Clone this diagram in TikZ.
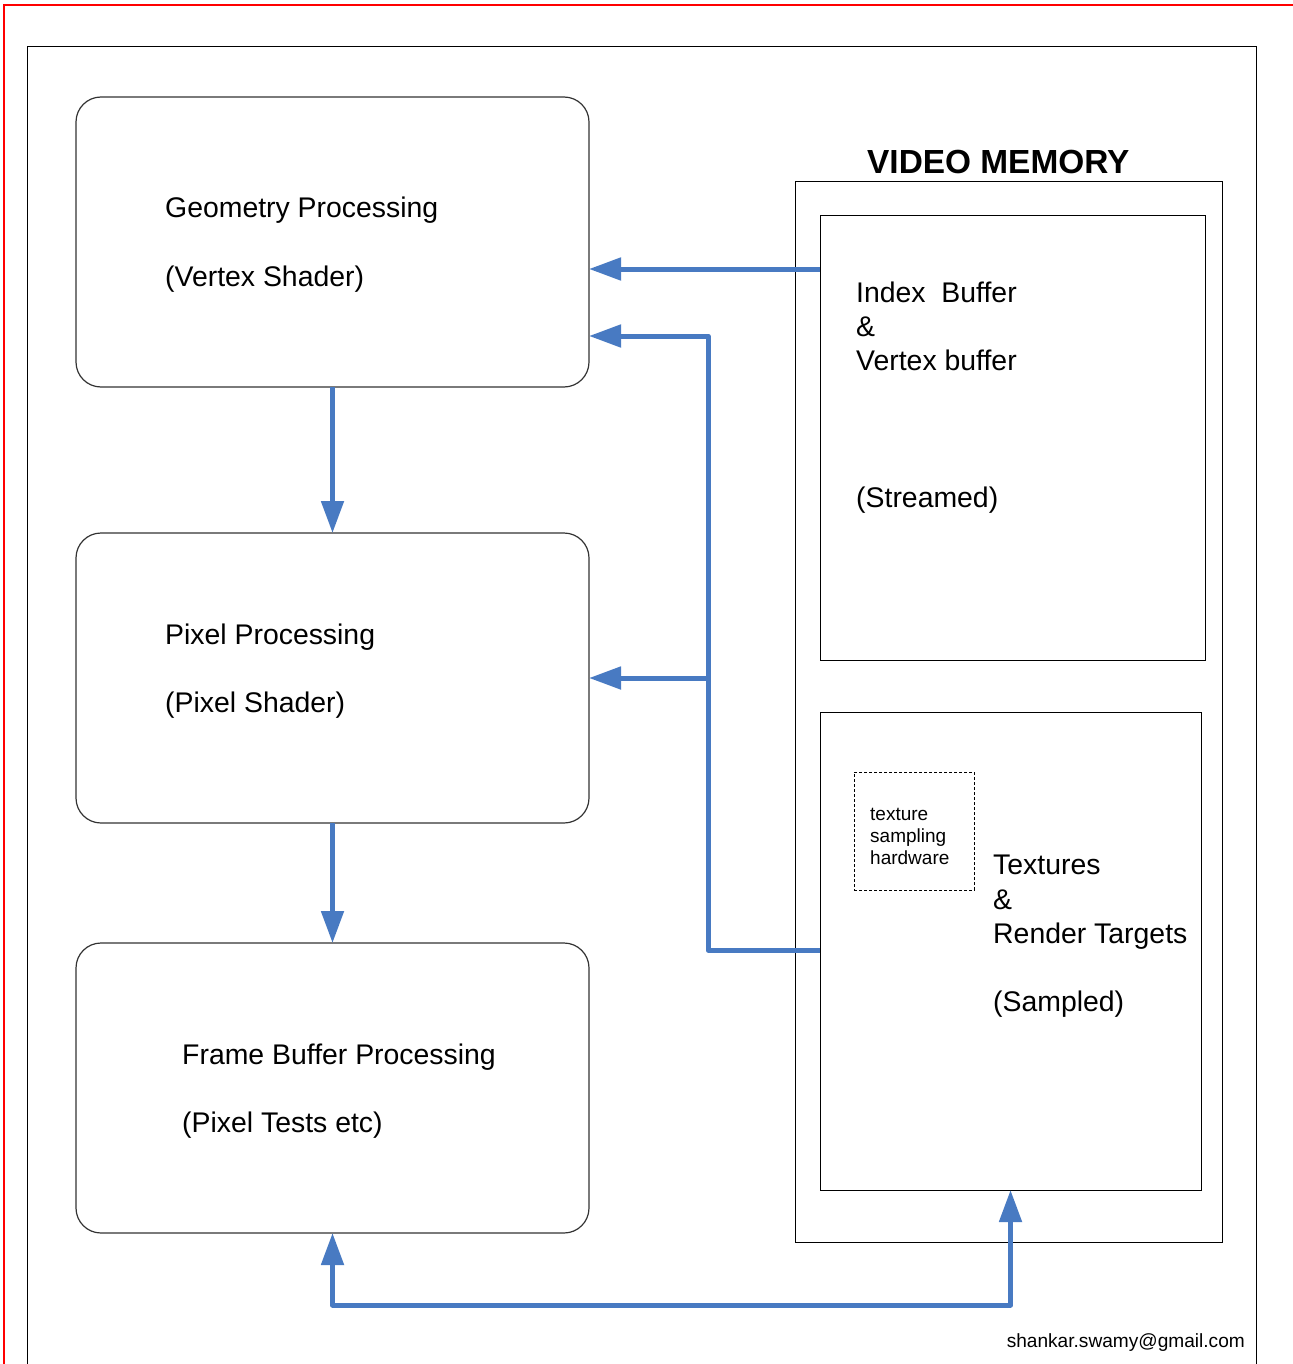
\documentclass[tikz,border=0pt]{standalone}
\usepackage{fontspec}
\setmainfont{Liberation Sans}
\usetikzlibrary{arrows.meta}
\definecolor{flowblue}{RGB}{72,122,194}
\begin{document}
\begin{tikzpicture}[x=1pt,y=-1pt,
  stage/.style={draw=black!80, line width=1.2pt, rounded corners=25pt,
    minimum width=513pt, minimum height=290pt, inner sep=0pt, outer sep=0pt,
    anchor=north west},
  memory/.style={draw=black, line width=1pt, inner sep=0pt, outer sep=0pt,
    anchor=north west},
  txt/.style={inner sep=0pt, anchor=base west, font=\fontsize{28.4}{34}\selectfont},
  small/.style={inner sep=0pt, anchor=base west, font=\fontsize{19}{22}\selectfont},
  flow/.style={draw=flowblue, line width=5pt, line join=round,
    -{Triangle[length=32pt,width=22pt]}},
  dflow/.style={draw=flowblue, line width=5pt, line join=round,
    {Triangle[length=32pt,width=22pt]}-{Triangle[length=32pt,width=22pt]}}]
\useasboundingbox (0,0) rectangle (1292,1364);

% page frame
\draw[red, line width=2pt] (4,1370) -- (4,5.2) -- (1300,5.2);
\draw[line width=1.2pt] (27.5,1380) -- (27.5,46.5) -- (1256.5,46.5) -- (1256.5,1380);

% pipeline stages
\node[stage] (geo) at (76,97) {};
\node[stage] (pix) at (76,533) {};
\node[stage] (fb)  at (76,943) {};

\node[txt] (geo1) at (165,218) {Geometry Processing};
\node[txt] (geo2) at (165,286) {(Vertex Shader)};
\node[txt] (pix1) at (165,644) {Pixel Processing};
\node[txt] (pix2) at (165,712) {(Pixel Shader)};
\node[txt] (fb1)  at (182,1064) {Frame Buffer Processing};
\node[txt] (fb2)  at (182,1132) {(Pixel Tests etc)};

% video memory
\node[memory, minimum width=427pt, minimum height=1060pt] (vm) at (795,182) {};
\node[inner sep=0pt, anchor=base west, font=\fontsize{33.4}{40}\selectfont\bfseries]
  (vmt) at (867,174) {VIDEO MEMORY};
\node[memory, minimum width=385pt, minimum height=444pt] (ib) at (820,216) {};
\node[memory, minimum width=381pt, minimum height=478pt] (tex) at (820,712) {};
\node[draw, dashed, line width=0.9pt, dash pattern=on 3pt off 2pt, inner sep=0pt,
  outer sep=0pt, anchor=north west, minimum width=120pt, minimum height=118pt]
  (tsh) at (854,772) {};

\node[txt] (ib1) at (856,302) {Index\ \ Buffer};
\node[txt] (ib2) at (856,336) {\&};
\node[txt] (ib3) at (856,370) {Vertex buffer};
\node[txt] (ib4) at (856,507) {(Streamed)};

\node[small] (tsh1) at (870,820) {texture};
\node[small] (tsh2) at (870,842) {sampling};
\node[small] (tsh3) at (870,864) {hardware};

\node[txt] (tex1) at (993,874) {Textures};
\node[txt] (tex2) at (993,909) {\&};
\node[txt] (tex3) at (993,943) {Render Targets};
\node[txt] (tex4) at (993,1011) {(Sampled)};

\node[inner sep=0pt, anchor=base east, font=\fontsize{19.1}{22}\selectfont]
  (mail) at (1245,1347) {shankar.swamy@gmail.com};

% data flow
\coordinate (bendlow)  at (708,950);
\coordinate (bendhigh) at (708,336);
\coordinate (tap)      at (708,678);

\draw[flow] (geo.south) -- (pix.north);
\draw[flow] (pix.south) -- (fb.north);
\draw[flow] (ib.west |- 0,269) -- (geo.east |- 0,269);
\draw[flow] (tex.west |- bendlow) -- (bendlow) -- (bendhigh) -- (geo.east |- bendhigh);
\draw[flow] (tap) -- (pix.east |- tap);
\draw[dflow] (fb.south) -- ++(0,72) -| (tex.south);
\end{tikzpicture}
\end{document}
